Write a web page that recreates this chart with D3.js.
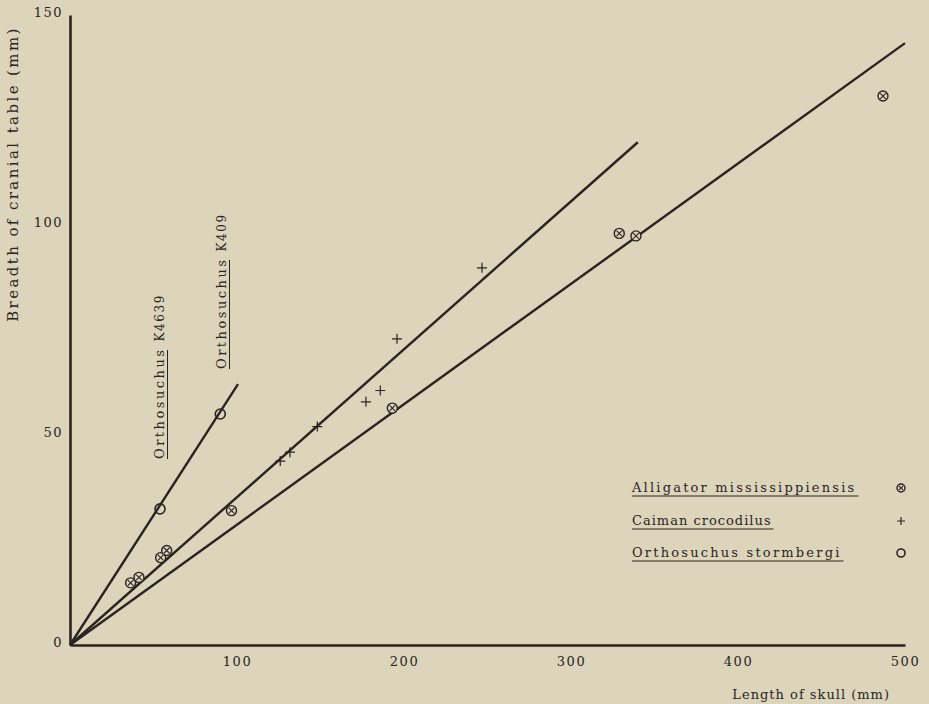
<!DOCTYPE html>
<html>
<head>
<meta charset="utf-8">
<script src="https://cdn.jsdelivr.net/npm/d3@7"></script>
<style>
    body { margin: 0; background: #dcd5bb; }
    svg { display: block; }
    text { font-family: "DejaVu Serif", "Liberation Serif", serif; fill: #2a2420; }
</style>
</head>
<body>
<svg id="graph" width="929" height="704"></svg>
<script>
// skull length (mm) vs breadth of cranial table (mm)
const alligator_x = [36.3, 41.3, 54.3, 57.9, 96.7, 193.0, 328.9, 338.9, 486.8];
const alligator_y = [14.8, 16.1, 20.8, 22.5, 32.0, 56.4, 98.0, 97.4, 130.7];
const caiman_x = [125.9, 131.7, 148.1, 177.2, 185.8, 195.8, 246.7];
const caiman_y = [43.8, 45.9, 52.0, 57.9, 60.6, 72.9, 89.8];
const ortho_x = [53.9, 90.0];
const ortho_y = [32.4, 55.0];
const ortho_labels = ["K4639", "K409"];

// fitted lines, end points
const fit_lines = [
    [[0, 0], [100.6, 62.1]],
    [[0, 0], [340, 119.7]],
    [[0, 0], [500, 143.3]],
];

const x_ticks = [100, 200, 300, 400, 500];
const y_ticks = [0, 50, 100, 150];
const legend_names = ["Alligator mississippiensis", "Caiman crocodilus", "Orthosuchus stormbergi"];
const legend_marks = ["cross_circle", "plus", "circle"];

const ink = "#2a2420";
const bg = "#dcd5bb";
const svg = d3.select("#graph");

const x = d3.scaleLinear().domain([0, 500]).range([70, 905]);
const y = d3.scaleLinear().domain([0, 150]).range([645, 15]);

// axes
const xAxis = svg.append("g")
    .attr("transform", `translate(0,${y(0)})`)
    .call(d3.axisBottom(x).tickValues(x_ticks).tickSize(0).tickPadding(12));
const yAxis = svg.append("g")
    .attr("transform", `translate(${x(0)},0)`)
    .call(d3.axisLeft(y).tickValues(y_ticks).tickSize(0).tickPadding(7));

[xAxis, yAxis].forEach((a) => {
    a.select(".domain").attr("stroke", ink).attr("stroke-width", 2.6);
    a.selectAll("text")
        .attr("fill", ink)
        .style("font-size", "13px")
        .style("letter-spacing", "1.5px");
});
yAxis.selectAll("text").attr("dy", "0.15em");

svg.append("text")
    .attr("x", 890)
    .attr("y", 699)
    .attr("text-anchor", "end")
    .style("font-size", "13px")
    .style("letter-spacing", "1px")
    .text("Length of skull (mm)");

svg.append("text")
    .attr("transform", `translate(18,174) rotate(-90)`)
    .attr("text-anchor", "middle")
    .style("font-size", "15px")
    .style("letter-spacing", "2.4px")
    .text("Breadth of cranial table (mm)");

// regression lines
fit_lines.forEach((ln) => {
    svg.append("path")
        .attr("d", d3.line()(ln.map((p) => [x(p[0]), y(p[1])])))
        .attr("stroke", ink)
        .attr("fill", "none")
        .attr("stroke-width", 2.4);
});

// markers
function drawMark(g, kind, cx, cy, r) {
    if (kind === "cross_circle") {
        g.append("circle")
            .attr("cx", cx).attr("cy", cy).attr("r", r)
            .attr("fill", bg).attr("stroke", ink).attr("stroke-width", 1.4);
        const k = r * 0.55;
        g.append("path")
            .attr("d", `M${cx - k},${cy - k}L${cx + k},${cy + k}M${cx + k},${cy - k}L${cx - k},${cy + k}`)
            .attr("stroke", ink).attr("stroke-width", 1.1);
    } else if (kind === "plus") {
        g.append("path")
            .attr("d", `M${cx - r},${cy}L${cx + r},${cy}M${cx},${cy - r}L${cx},${cy + r}`)
            .attr("stroke", ink).attr("stroke-width", 1.2);
    } else {
        g.append("circle")
            .attr("cx", cx).attr("cy", cy).attr("r", r)
            .attr("fill", "none").attr("stroke", ink).attr("stroke-width", 1.6);
    }
}

const pts = svg.append("g");
alligator_x.forEach((v, i) => drawMark(pts, "cross_circle", x(v), y(alligator_y[i]), 5));
caiman_x.forEach((v, i) => drawMark(pts, "plus", x(v), y(caiman_y[i]), 5));
ortho_x.forEach((v, i) => drawMark(pts, "circle", x(v), y(ortho_y[i]), 5));

// specimen labels, rotated
const label_pos = [[164, 459], [226, 369]];
ortho_labels.forEach((lab, i) => {
    const g = svg.append("g")
        .attr("transform", `translate(${label_pos[i][0]},${label_pos[i][1]}) rotate(-90)`);
    const t = g.append("text")
        .style("font-size", "13px")
        .style("letter-spacing", "2.5px")
        .text("Orthosuchus");
    const len = t.node().getComputedTextLength();
    g.append("line")
        .attr("x1", 0).attr("x2", len - 2.5)
        .attr("y1", 3.5).attr("y2", 3.5)
        .attr("stroke", ink).attr("stroke-width", 1);
    g.append("text")
        .attr("x", len + 6)
        .style("font-size", "12px")
        .style("letter-spacing", "1.6px")
        .text(lab);
});

// legend
const legend_y = [492, 525, 557];
const legend_spacing = [2.2, 1.0, 2.2];
legend_names.forEach((name, i) => {
    const t = svg.append("text")
        .attr("x", 632)
        .attr("y", legend_y[i])
        .style("font-size", "13px")
        .style("letter-spacing", legend_spacing[i] + "px")
        .text(name);
    const len = t.node().getComputedTextLength();
    svg.append("line")
        .attr("x1", 632).attr("x2", 632 + len + 2)
        .attr("y1", legend_y[i] + 4).attr("y2", legend_y[i] + 4)
        .attr("stroke", ink).attr("stroke-width", 1);
    drawMark(svg, legend_marks[i], 901, legend_y[i] - 4, 4);
});
</script>
</body>
</html>
